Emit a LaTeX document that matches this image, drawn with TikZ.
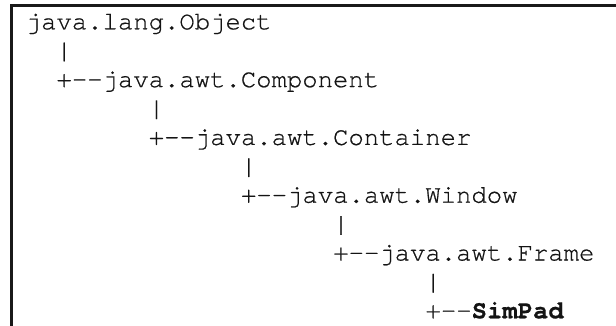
\documentclass[tikz,border=0pt]{standalone}
\usepackage{fontspec}
\newfontfamily\codefont{texgyrecursor-regular.otf}[BoldFont=texgyrecursor-bold.otf,FakeBold=0.6]
\begin{document}
\begin{tikzpicture}[x=1pt,y=-1pt,
  code/.style={anchor=base west,inner sep=0pt,outer sep=0pt,
    font=\codefont\fontsize{25.6}{28.9}\selectfont,text=black!92},
  frameline/.style={line width=2.5pt,draw=black!90}]
  \useasboundingbox (0,0) rectangle (616,326);
  % column width and row pitch of the monospaced listing
  \def\cw{15.375}
  \def\rp{28.9}
  \def\xo{25.8}
  \def\yo{29.3}
  % open frame: left and top edges
  \draw[frameline] (11.5,330) -- (11.5,5.5) -- (620,5.5);
  % class hierarchy listing
  \node[code] (object)    at (\xo+0*\cw,  \yo+0*\rp)  {java.lang.Object};
  \node[code] (bar1)      at (\xo+2*\cw,  \yo+1*\rp)  {|};
  \node[code] (component) at (\xo+2*\cw,  \yo+2*\rp)  {+--java.awt.Component};
  \node[code] (bar2)      at (\xo+8*\cw,  \yo+3*\rp)  {|};
  \node[code] (container) at (\xo+8*\cw,  \yo+4*\rp)  {+--java.awt.Container};
  \node[code] (bar3)      at (\xo+14*\cw, \yo+5*\rp)  {|};
  \node[code] (window)    at (\xo+14*\cw, \yo+6*\rp)  {+--java.awt.Window};
  \node[code] (bar4)      at (\xo+20*\cw, \yo+7*\rp)  {|};
  \node[code] (frame)     at (\xo+20*\cw, \yo+8*\rp)  {+--java.awt.Frame};
  \node[code] (bar5)      at (\xo+26*\cw, \yo+9*\rp)  {|};
  \node[code] (simpad)    at (\xo+26*\cw, \yo+10*\rp) {+--\textbf{SimPad}};
\end{tikzpicture}
\end{document}
